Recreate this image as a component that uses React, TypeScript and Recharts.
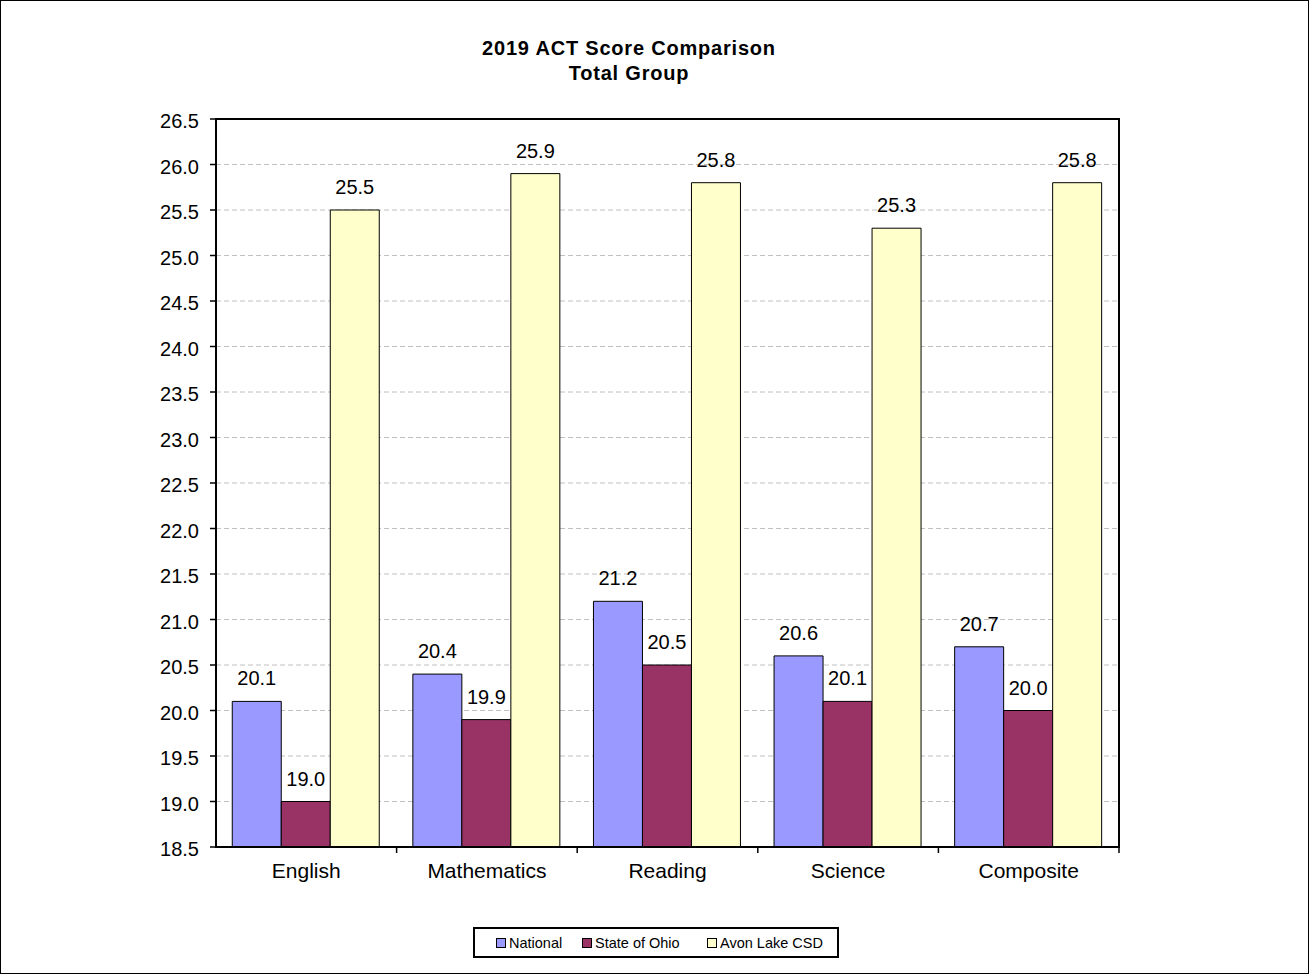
import React from "react";
import {
  BarChart,
  Bar,
  XAxis,
  YAxis,
  CartesianGrid,
  LabelList,
  ReferenceArea,
} from "recharts";

const categories = ["English", "Mathematics", "Reading", "Science", "Composite"];
const national = [20.1, 20.4, 21.2, 20.6, 20.7];
const stateOfOhio = [19.0, 19.9, 20.5, 20.1, 20.0];
const avonLake = [25.5, 25.9, 25.8, 25.3, 25.8];
const yTicks = [18.5, 19, 19.5, 20, 20.5, 21, 21.5, 22, 22.5, 23, 23.5, 24, 24.5, 25, 25.5, 26, 26.5];

const seriesNames = ["National", "State of Ohio", "Avon Lake CSD"];
const seriesColors = ["#9999FF", "#993366", "#FFFFCC"];

const data = categories.map((c, i) => ({
  category: c,
  national: national[i],
  state: stateOfOhio[i],
  avon: avonLake[i],
}));

const FONT = "'Liberation Sans', Arial, Helvetica, sans-serif";

const XTick = (props: any) => {
  const { x, y, payload } = props;
  const off = payload && typeof payload.offset === "number" ? payload.offset : 90.3;
  return (
    <g>
      <line x1={x + off} x2={x + off} y1={y} y2={y + 6} stroke="#000" strokeWidth={1.5} />
      <text x={x} y={y + 31} textAnchor="middle" fontFamily={FONT} fontSize={21} fill="#000">
        {payload.value}
      </text>
    </g>
  );
};

const YTick = (props: any) => {
  const { x, y, payload } = props;
  return (
    <text x={x} y={y + 9} textAnchor="end" fontFamily={FONT} fontSize={20} fill="#000">
      {Number(payload.value).toFixed(1)}
    </text>
  );
};

const fmt = (v: any) => Number(v).toFixed(1);

export default function App() {
  const keys = ["national", "state", "avon"];
  return (
    <div
      style={{
        position: "absolute",
        left: 0,
        top: 0,
        width: 1309,
        height: 975,
        background: "#fff",
        fontFamily: FONT,
      }}
    >
      <div
        style={{
          position: "absolute",
          left: 0,
          top: 0,
          width: 1309,
          height: 974,
          border: "1px solid #000",
          boxSizing: "border-box",
        }}
      />
      <div
        style={{
          position: "absolute",
          left: 329,
          top: 36,
          width: 600,
          textAlign: "center",
          fontWeight: "bold",
          fontSize: 20,
          lineHeight: "25px",
          letterSpacing: 0.8,
          color: "#000",
        }}
      >
        <div>2019 ACT Score Comparison</div>
        <div>Total Group</div>
      </div>
      <div style={{ position: "absolute", left: 0, top: 0 }}>
        <BarChart
          width={1309}
          height={975}
          data={data}
          margin={{ top: 119, right: 190, bottom: 88, left: 156 }}
          barCategoryGap="9%"
          barGap={0}
        >
          <CartesianGrid
            horizontal={true}
            vertical={false}
            stroke="#c0c0c0"
            strokeDasharray="5 3"
          />
          <XAxis
            dataKey="category"
            height={40}
            tickLine={false}
            tickSize={0}
            tickMargin={0}
            axisLine={{ stroke: "#000", strokeWidth: 2 }}
            tick={<XTick />}
            interval={0}
          />
          <YAxis
            width={60}
            domain={[18.5, 26.5]}
            ticks={yTicks}
            interval={0}
            tickFormatter={fmt}
            tickSize={6}
            tickMargin={11}
            axisLine={{ stroke: "#000", strokeWidth: 2 }}
            tickLine={{ stroke: "#000", strokeWidth: 1.5 }}
            tick={<YTick />}
            allowDataOverflow={true}
          />
          <ReferenceArea
            y1={18.5}
            y2={26.5}
            fill="none"
            fillOpacity={0}
            stroke="#000"
            strokeWidth={2}
            ifOverflow="visible"
          />
          {keys.map((k, i) => (
            <Bar
              key={k}
              dataKey={k}
              name={seriesNames[i]}
              fill={seriesColors[i]}
              stroke="#000"
              strokeWidth={1}
              isAnimationActive={false}
            >
              <LabelList
                dataKey={k}
                position="top"
                offset={16}
                formatter={fmt}
                fill="#000"
                fontSize={20}
                fontFamily={FONT}
              />
            </Bar>
          ))}
        </BarChart>
      </div>
      <div
        style={{
          position: "absolute",
          left: 473,
          top: 927,
          width: 366,
          height: 31,
          border: "2px solid #000",
          boxSizing: "border-box",
          background: "#fff",
        }}
      >
        {seriesNames.map((n, i) => {
          const lefts = [21, 107, 232];
          return (
            <div
              key={n}
              style={{
                position: "absolute",
                left: lefts[i],
                top: 0,
                height: 27,
                display: "flex",
                alignItems: "center",
                fontSize: 14.5,
                color: "#000",
                whiteSpace: "nowrap",
              }}
            >
              <span
                style={{
                  display: "inline-block",
                  width: 8,
                  height: 8,
                  background: seriesColors[i],
                  border: "1px solid #000",
                  marginRight: 3,
                }}
              />
              <span>{n}</span>
            </div>
          );
        })}
      </div>
    </div>
  );
}
